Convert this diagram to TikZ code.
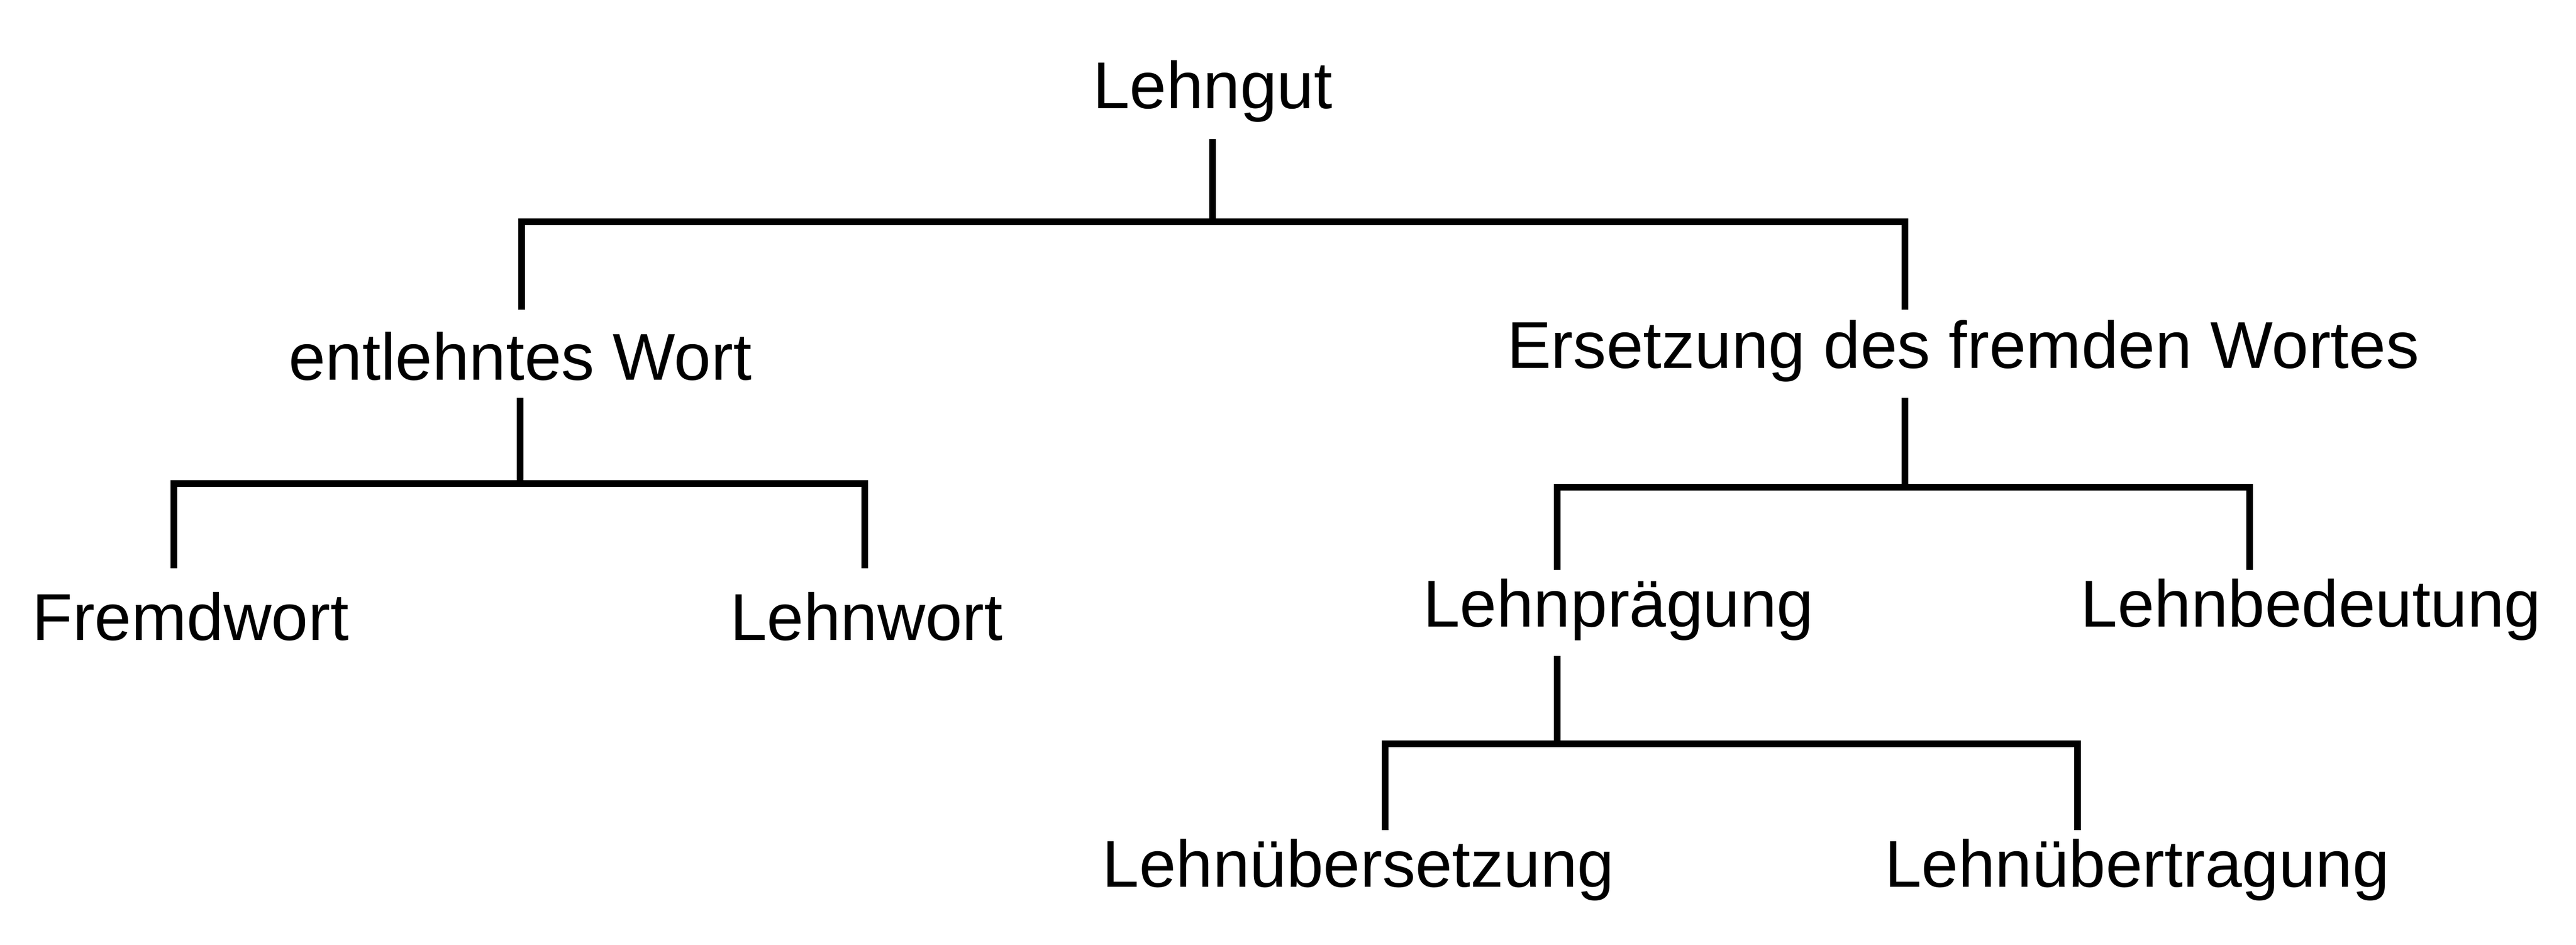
\documentclass[tikz,border=0pt]{standalone}
\usepackage{fontspec}
\setmainfont{Liberation Sans}
\begin{document}
\begin{tikzpicture}[x=1pt,y=-1pt,
  lbl/.style={inner sep=0pt,font=\fontsize{40}{48}\selectfont},
  tree/.style={line width=4pt,line cap=rect}]
\useasboundingbox (0,0) rectangle (1555,570.2);
\node[lbl] (root) at (732,55) {Lehngut};
\node[lbl] (ent) at (314,215) {entlehntes Wort};
\node[lbl] (ers) at (1185,212) {Ersetzung des fremden Wortes};
\node[lbl] (fw) at (115,372) {Fremdwort};
\node[lbl] (lw) at (523,372) {Lehnwort};
\node[lbl] (lp) at (977,368) {Lehnprägung};
\node[lbl] (lb) at (1395,368) {Lehnbedeutung};
\node[lbl] (lu) at (820,525) {Lehnübersetzung};
\node[lbl] (lt) at (1290,525) {Lehnübertragung};
\coordinate (a0) at (732,86); \coordinate (a1) at (732,134);
\coordinate (aL) at (315,134); \coordinate (aR) at (1150,134);
\coordinate (aLd) at (315,185); \coordinate (aRd) at (1150,185);
\draw[tree] (a0) -- (a1) (aLd) -- (aL) -- (aR) -- (aRd);
\coordinate (b0) at (314,242); \coordinate (b1) at (314,292);
\coordinate (bL) at (105,292); \coordinate (bR) at (522,292);
\draw[tree] (b0) -- (b1) (105,341) -- (bL) -- (bR) -- (522,341);
\coordinate (c0) at (1150,242); \coordinate (c1) at (1150,294);
\coordinate (cL) at (940,294); \coordinate (cR) at (1358,294);
\draw[tree] (c0) -- (c1) (940,342) -- (cL) -- (cR) -- (1358,342);
\coordinate (d0) at (940,398); \coordinate (d1) at (940,449);
\coordinate (dL) at (836,449); \coordinate (dR) at (1254,449);
\draw[tree] (d0) -- (d1) (836,499) -- (dL) -- (dR) -- (1254,499);
\end{tikzpicture}
\end{document}
